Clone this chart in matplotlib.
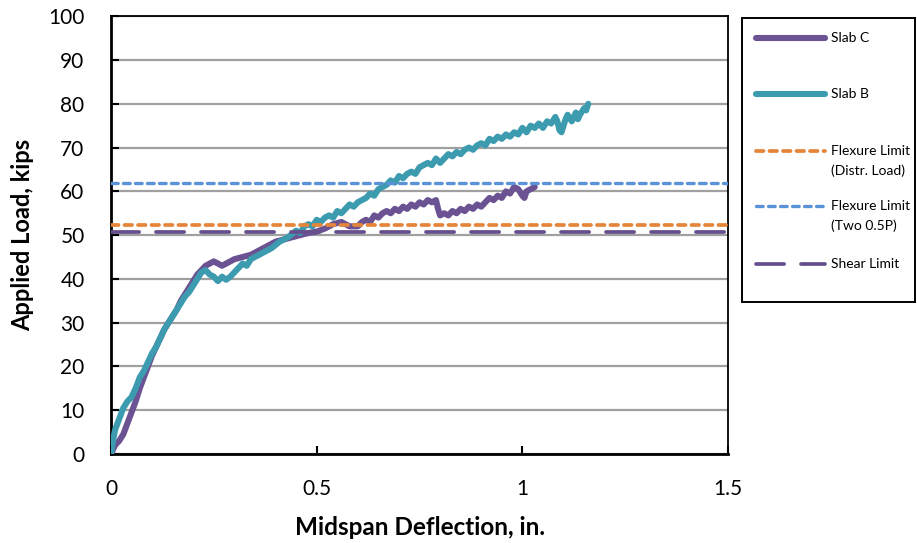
import matplotlib.pyplot as plt

plt.rcParams['font.family'] = ['Lato', 'DejaVu Sans']

# Load-deflection readings, Slab B
slab_b_defl = [0, 0.005, 0.01, 0.02, 0.03, 0.04, 0.05, 0.06, 0.07, 0.08, 0.09,
               0.10, 0.11, 0.12, 0.13, 0.14, 0.15, 0.16, 0.17, 0.18, 0.19, 0.20,
               0.21, 0.22, 0.23, 0.24, 0.25, 0.26, 0.27, 0.28, 0.29, 0.30, 0.31,
               0.32, 0.33, 0.34, 0.35, 0.37, 0.39, 0.41, 0.43,
               0.45, 0.46, 0.47, 0.48, 0.49, 0.50, 0.51, 0.52, 0.53, 0.54,
               0.55, 0.56, 0.57, 0.58, 0.59, 0.60, 0.61, 0.62, 0.63, 0.64,
               0.65, 0.66, 0.67, 0.68, 0.69, 0.70, 0.71, 0.72, 0.73, 0.74,
               0.75, 0.76, 0.77, 0.78, 0.79, 0.80, 0.81, 0.82, 0.83, 0.84,
               0.85, 0.86, 0.87, 0.88, 0.89, 0.90, 0.91, 0.92, 0.93, 0.94,
               0.95, 0.96, 0.97, 0.98, 0.99, 1.00, 1.01, 1.02, 1.03, 1.04,
               1.05, 1.06, 1.07, 1.08, 1.085, 1.09, 1.095, 1.10, 1.105, 1.11,
               1.12, 1.13, 1.135, 1.14, 1.15, 1.155, 1.16]
slab_b_load = [0, 3, 5.5, 8, 10.5, 12, 13, 15, 17.5, 19, 21,
               23, 24.5, 26.5, 28.5, 30, 31.5, 33, 34.5, 36, 37, 38.5,
               40, 41.5, 42, 41, 40.5, 39.5, 40.5, 39.8, 40.5, 41.5, 42.5,
               43.5, 43, 44.5, 45, 46, 47, 48.5, 49.5,
               51, 50.5, 52, 52.5, 52, 53.5, 53, 54, 54.5, 54,
               55.5, 55, 56, 57, 56.5, 57.5, 58, 58.5, 59.5, 59,
               60.5, 61, 61.5, 62.5, 62, 63.5, 63, 64, 64.5, 64,
               65.5, 66, 66.5, 66, 67.5, 66.5, 67.5, 68.5, 68, 69,
               68.5, 69.5, 70, 69.5, 70.5, 71, 70.5, 72, 71.5, 72.5,
               72, 73, 72.5, 73.5, 73, 74.5, 73.5, 75, 74.5, 75.5,
               74.5, 76, 75.5, 77, 76, 74, 73.5, 75, 76.5, 77.5,
               76, 78, 76.5, 77.5, 79, 78.5, 80]

# Load-deflection readings, Slab C
slab_c_defl = [0, 0.005, 0.01, 0.02, 0.03, 0.04, 0.05, 0.06, 0.07, 0.08, 0.09,
               0.10, 0.11, 0.12, 0.13, 0.14, 0.15, 0.16, 0.17, 0.18, 0.19, 0.20,
               0.21, 0.22, 0.23, 0.24, 0.25, 0.26, 0.27, 0.28, 0.29, 0.30, 0.32,
               0.34, 0.36, 0.38, 0.40, 0.42, 0.44, 0.46, 0.48, 0.50, 0.52, 0.54,
               0.56, 0.58, 0.60, 0.61, 0.62, 0.63, 0.64, 0.65, 0.66, 0.67, 0.68,
               0.69, 0.70, 0.71, 0.72, 0.73, 0.74, 0.75, 0.76, 0.77, 0.78,
               0.79, 0.795, 0.80, 0.81, 0.82, 0.83, 0.84, 0.85, 0.86, 0.87,
               0.88, 0.89, 0.90, 0.91, 0.92, 0.93, 0.94, 0.95, 0.96, 0.97,
               0.98, 0.99, 1.00, 1.005, 1.01, 1.02, 1.03]
slab_c_load = [0, 1, 2, 3, 4.5, 7, 9.5, 12, 15, 17.5, 20,
               22.5, 24.5, 26.5, 28.5, 30, 31.5, 33, 35, 36.5, 38, 39.5,
               41, 42, 43, 43.5, 44, 43.5, 43, 43.5, 44, 44.5, 45,
               45.5, 46.5, 47.5, 48.5, 49, 49.5, 50, 50.5, 50.8, 51.5, 52.5,
               53, 52, 52, 53, 53.5, 53, 54.5, 54, 55, 55.5, 55,
               56, 55.5, 56.5, 56, 57, 56.5, 57.5, 57, 58, 57.5,
               58, 56, 54.5, 55, 54.5, 55.5, 55, 56, 55.5, 56.5,
               56, 57, 56.5, 57.5, 58.5, 58, 59, 58.5, 60, 59.5,
               61, 60.5, 59, 58.5, 60, 60.5, 61]

# Design limits (kips)
flexure_distr = 52.3
flexure_two_point = 61.9
shear_limit = 50.7

purple = '#6b5393'
teal = '#3d9bb0'
orange = '#e5853a'
blue = '#5a92d8'
shear_purple = '#664f8c'

curve_style = dict(lw=4.4, solid_capstyle='round', solid_joinstyle='round')
orange_style = dict(color=orange, lw=2.7, ls=(0, (2.0, 1.6)), dash_capstyle='round')
blue_style = dict(color=blue, lw=2.4, ls=(0, (2.0, 1.6)), dash_capstyle='round')
shear_style = dict(color=shear_purple, lw=2.7, ls=(0, (7.5, 4.5)), dash_capstyle='round')

fig = plt.figure(figsize=(9.17, 5.43), dpi=100)
ax = fig.add_axes([0.121, 0.164, 0.673, 0.806])

ax.plot(slab_c_defl, slab_c_load, color=purple, zorder=3, **curve_style)
ax.plot(slab_b_defl, slab_b_load, color=teal, zorder=4, **curve_style)

ax.axhline(flexure_distr, zorder=5, **orange_style)
ax.axhline(flexure_two_point, zorder=5, **blue_style)
ax.axhline(shear_limit, zorder=5, **shear_style)

ax.set_xlim(0, 1.5)
ax.set_ylim(0, 100)
ax.set_xticks([0, 0.5, 1, 1.5])
ax.set_xticklabels(['0', '0.5', '1', '1.5'])
ax.set_yticks(range(0, 101, 10))
ax.yaxis.grid(True, color='#a0a0a0', lw=1.6)
ax.set_axisbelow(True)
ax.tick_params(direction='in', labelsize=15, length=6, width=1.5)
ax.tick_params(axis='y', pad=19)
ax.tick_params(axis='x', pad=18)
for side in ['left', 'bottom']:
    ax.spines[side].set_linewidth(2.0)
for side in ['top', 'right']:
    ax.spines[side].set_linewidth(1.3)

ax.set_xlabel('Midspan Deflection, in.', fontsize=17.5, fontweight='bold', labelpad=12)
ax.set_ylabel('Applied Load, kips', fontsize=17, fontweight='bold', labelpad=10)

# legend box drawn in its own pixel-scaled axes
W, H = 917, 543
left, top, right, bottom = 742, 18, 915, 302
lax = fig.add_axes([left / W, 1 - bottom / H, (right - left) / W, (bottom - top) / H])
lax.set_xlim(left, right)
lax.set_ylim(bottom, top)
lax.set_xticks([])
lax.set_yticks([])
for sp in lax.spines.values():
    sp.set_linewidth(1.4)
    sp.set_color('black')

entries = [
    (dict(color=purple, **curve_style), ['Slab C'], 38),
    (dict(color=teal, **curve_style), ['Slab B'], 94),
    (orange_style, ['Flexure Limit', '(Distr. Load)'], 151),
    (blue_style, ['Flexure Limit', '(Two 0.5P)'], 206),
    (shear_style, ['Shear Limit'], 264),
]
for style, lines, y in entries:
    lax.plot([756, 825], [y, y], **style)
    for i, txt in enumerate(lines):
        lax.text(831, y + i * 20, txt, fontsize=10, va='center', ha='left')

fig.savefig('out.png', dpi=100)
